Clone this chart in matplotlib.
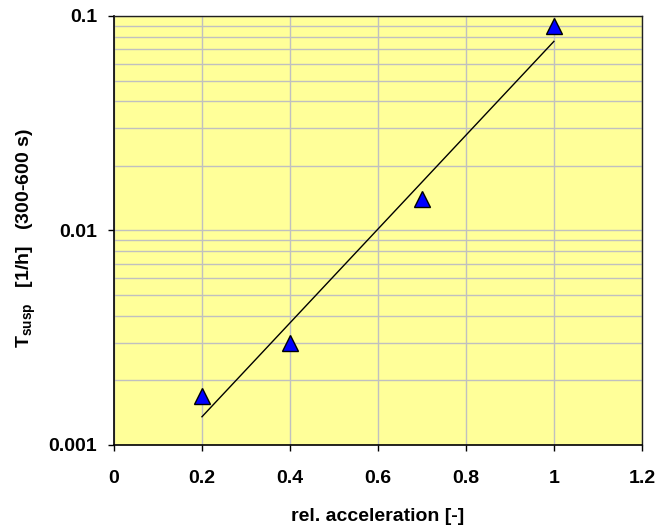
import numpy as np
import matplotlib
matplotlib.use("Agg")
import matplotlib.pyplot as plt
from matplotlib.ticker import FixedLocator, FixedFormatter, LogLocator, NullFormatter

# measured suspension rates vs. relative acceleration
rel_accel = [0.2, 0.4, 0.7, 1.0]
t_susp = [0.0017, 0.003, 0.014, 0.09]

x_ticks = [0, 0.2, 0.4, 0.6, 0.8, 1.0, 1.2]
x_tick_labels = ["0", "0.2", "0.4", "0.6", "0.8", "1", "1.2"]
y_ticks = [0.001, 0.01, 0.1]
y_tick_labels = ["0.001", "0.01", "0.1"]

plt.rcParams["font.family"] = ["Liberation Sans", "DejaVu Sans"]
plt.rcParams["font.weight"] = "bold"
plt.rcParams["mathtext.fontset"] = "custom"
plt.rcParams["mathtext.rm"] = "Liberation Sans:bold"
plt.rcParams["mathtext.bf"] = "Liberation Sans:bold"

fig = plt.figure(figsize=(6.57, 5.26), dpi=100)
ax = fig.add_axes([0.1735, 0.154, 0.8035, 0.8156])
ax.set_facecolor("#FFFF99")

# exponential trend line fitted in log space
xa = np.array(rel_accel)
slope, intercept = np.polyfit(xa, np.log(t_susp), 1)
xf = np.linspace(xa.min(), xa.max(), 200)
ax.plot(xf, np.exp(intercept + slope * xf), color="black", lw=1.0, zorder=3)

ax.plot(rel_accel, t_susp, linestyle="none", marker="^", markersize=11,
        markerfacecolor="#0000FF", markeredgecolor="black", markeredgewidth=1.0,
        zorder=4)

ax.set_yscale("log")
ax.set_xlim(0, 1.2)
ax.set_ylim(0.001, 0.1)

ax.xaxis.set_major_locator(FixedLocator(x_ticks))
ax.xaxis.set_major_formatter(FixedFormatter(x_tick_labels))
ax.yaxis.set_major_locator(FixedLocator(y_ticks))
ax.yaxis.set_major_formatter(FixedFormatter(y_tick_labels))
ax.yaxis.set_minor_locator(LogLocator(base=10, subs=np.arange(2, 10)))
ax.yaxis.set_minor_formatter(NullFormatter())

ax.grid(True, which="major", color="#C0C0C0", lw=1.0, zorder=1)
ax.grid(True, which="minor", axis="y", color="#C0C0C0", lw=1.0, zorder=1)
ax.set_axisbelow(True)

ax.tick_params(axis="both", which="major", direction="out", length=4,
               width=1, labelsize=14)
ax.tick_params(axis="y", which="major", pad=8)
ax.tick_params(axis="y", which="minor", length=0)
ax.tick_params(axis="x", which="major", pad=14)
for lbl in ax.get_xticklabels() + ax.get_yticklabels():
    lbl.set_fontweight("bold")

for side in ["left", "bottom"]:
    ax.spines[side].set_color("black")
    ax.spines[side].set_linewidth(1.2)
for side in ["top", "right"]:
    ax.spines[side].set_color("#202020")
    ax.spines[side].set_linewidth(1.0)

ax.set_xlabel("rel. acceleration [-]", fontsize=14, fontweight="bold", labelpad=15)
ax.set_ylabel(r"$\mathbf{T_{susp}}$   [1/h]   (300-600 s)", fontsize=14,
              fontweight="bold")
ax.yaxis.set_label_coords(-0.1435, 0.4825)

fig.savefig("out.png", dpi=100)
